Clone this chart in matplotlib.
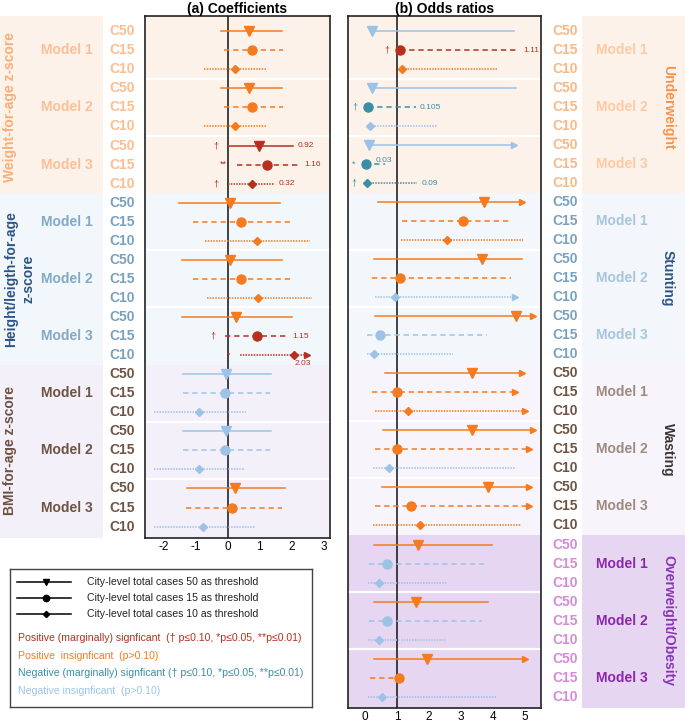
import numpy as np
import matplotlib.pyplot as plt
from matplotlib.transforms import blended_transform_factory
from matplotlib.patches import Rectangle

plt.rcParams['font.family'] = ['Liberation Sans', 'DejaVu Sans']
plt.rcParams['axes.unicode_minus'] = False

# ---- data ----
thresholds = ['C50', 'C15', 'C10']
models = ['Model 1', 'Model 2', 'Model 3']
coef_groups = ['Weight-for-age z-score', 'Height/leigth-for-age\nz-score', 'BMI-for-age z-score']
or_groups = ['Underweight', 'Stunting', 'Wasting', 'Overweight/Obesity']

# (a) coefficients, rows ordered group > model > threshold
coef_est = [0.66, 0.75, 0.21, 0.65, 0.75, 0.22, 0.98, 1.21, 0.76,
            0.08, 0.40, 0.90, 0.08, 0.42, 0.93, 0.24, 0.92, 2.08,
            -0.07, -0.10, -0.91, -0.07, -0.08, -0.91, 0.22, 0.14, -0.77]
coef_lo = [-0.22, -0.13, -0.75, -0.23, -0.13, -0.75, 0.01, 0.27, 0.01,
           -1.53, -1.10, -0.71, -1.45, -1.08, -0.65, -1.44, -0.08, 0.37,
           -1.40, -1.40, -2.31, -1.40, -1.40, -2.31, -1.27, -1.32, -2.31]
coef_hi = [1.69, 1.72, 1.24, 1.68, 1.72, 1.24, 2.04, 2.25, 1.45,
           1.62, 1.99, 2.58, 1.71, 1.99, 2.63, 2.01, 1.90, 2.47,
           1.36, 1.33, 0.58, 1.36, 1.31, 0.55, 1.80, 1.68, 0.84]
coef_sig = (['pos'] * 6 + ['pos_sig'] * 3 + ['pos'] * 7 + ['pos_sig'] * 2
            + ['neg'] * 6 + ['pos', 'pos', 'neg'])
coef_arrows = [17]
coef_stars = {6: '†', 7: '**', 8: '†', 16: '†', 17: '*'}
coef_labels = {6: '0.92', 7: '1.16', 8: '0.32', 16: '1.15', 17: '2.03'}

# (b) odds ratios
or_est = [0.22, 1.10, 1.17, 0.22, 0.10, 0.16, 0.14, 0.02, 0.07,
          3.73, 3.07, 2.55, 3.67, 1.10, 0.95, 4.71, 0.46, 0.28,
          3.33, 1.01, 1.33, 3.33, 1.01, 0.75, 3.85, 1.44, 1.72,
          1.65, 0.68, 0.44, 1.61, 0.68, 0.43, 1.93, 1.06, 0.53]
or_lo = [0.20, 1.08, 1.15, 0.20, 0.08, 0.14, 0.12, 0.01, 0.05,
         0.42, 1.17, 1.12, 0.28, 0.21, 0.32, 0.32, 0.05, 0.05,
         0.63, 0.21, 0.31, 0.57, 0.31, 0.24, 0.54, 0.31, 0.24,
         0.29, 0.14, 0.08, 0.29, 0.14, 0.08, 0.29, 0.16, 0.10]
or_hi = [4.67, 4.81, 4.11, 4.71, 1.59, 2.24, 4.67, 0.63, 1.64,
         4.90, 4.57, 4.93, 4.90, 4.55, 4.69, 5.26, 3.80, 2.76,
         4.90, 4.69, 5.01, 5.26, 5.13, 4.69, 5.13, 5.13, 4.88,
         3.96, 3.72, 2.55, 3.85, 3.65, 2.53, 5.00, 1.10, 4.09]
or_sig = ['neg', 'pos_sig', 'pos', 'neg', 'neg_sig', 'neg', 'neg', 'neg_sig', 'neg_sig',
          'pos', 'pos', 'pos', 'pos', 'pos', 'neg', 'pos', 'neg', 'neg',
          'pos', 'pos', 'pos', 'pos', 'pos', 'neg', 'pos', 'pos', 'pos',
          'pos', 'neg', 'neg', 'pos', 'neg', 'neg', 'pos', 'pos', 'neg']
or_arrows = [6, 9, 14, 15, 18, 19, 20, 21, 22, 24, 25, 33]
or_stars = {1: '†', 4: '†', 7: '*', 8: '†'}
or_labels = {1: '1.11', 4: '0.105', 7: '0.03', 8: '0.09'}

legend_lines = ['City-level total cases 50 as threshold',
                'City-level total cases 15 as threshold',
                'City-level total cases 10 as threshold']
legend_notes = [('pos_sig', 'Positive (marginally) signficant  († p≤0.10, *p≤0.05, **p≤0.01)'),
                ('pos', 'Positive  insignficant  (p>0.10)'),
                ('neg_sig', 'Negative (marginally) signficant († p≤0.10, *p≤0.05, **p≤0.01)'),
                ('neg', 'Negative insignficant  (p>0.10)')]

# ---- styles ----
sig_colors = {'pos_sig': '#b5301f', 'pos': '#f47b20', 'neg_sig': '#3a8fa2', 'neg': '#9cc3e6'}
ls_th = {'C50': '-', 'C15': (0, (3.5, 2.5)), 'C10': (0, (1, 0.8))}
mk_th = {'C50': 'v', 'C15': 'o', 'C10': 'D'}
ms_th = {'C50': 7, 'C15': 6.5, 'C10': 4.5}

left_style = [  # band, group label, model label, C label
    ('#fdf2e9', '#fbae76', '#fcc096', '#fcbd8f'),
    ('#f2f7fb', '#2d5586', '#82a9c5', '#78a1c0'),
    ('#f4f0fa', '#6b5242', '#6e5443', '#6e5443'),
]
right_style = [
    ('#fdf2e9', '#f7944a', '#fdcaa3', '#fbb784'),
    ('#f3f7fb', '#2d5586', '#a8c5db', '#78a1c0'),
    ('#f7f4fb', '#3d3535', '#9d8b80', '#6e5443'),
    ('#e7d6f1', '#8a35b5', '#8c27ab', '#d68ad8'),
]

fig = plt.figure(figsize=(6.85, 7.24), dpi=100)
ax_a = fig.add_axes([145 / 685, 1 - 538 / 724, 185 / 685, 522 / 724])
ax_b = fig.add_axes([348 / 685, 1 - 708 / 724, 193 / 685, 692 / 724])


def draw_panel(ax, est, lo, hi, sig, arrows, stars, labels, styles, ref, xlim):
    n = len(est)
    ax.set_xlim(*xlim)
    ax.set_ylim(n - 0.4, -0.8)
    ngroups = n // 9
    for g in range(ngroups):
        y0 = -1 if g == 0 else g * 9 - 0.5
        y1 = n + 1 if g == ngroups - 1 else g * 9 + 8.5
        ax.axhspan(y0, y1, color=styles[g][0], zorder=0, lw=0)
        for m in (1, 2):
            ax.axhline(g * 9 + m * 3 - 0.5, color='white', lw=1.6, zorder=1)
    ax.axvline(ref, color='#111111', lw=1.1, zorder=2)
    for i in range(n):
        th = thresholds[i % 3]
        c = sig_colors[sig[i]]
        ax.plot([lo[i], hi[i]], [i, i], color=c, ls=ls_th[th], lw=1.1, zorder=3)
        ax.plot(est[i], i, marker=mk_th[th], ms=ms_th[th], color=c, mec=c, zorder=4)
        if i in arrows:
            ax.plot(hi[i], i, marker='>', ms=4, color=c, mec=c, zorder=4)
    for i, s in stars.items():
        c = sig_colors[sig[i]]
        ax.annotate(s, (min(lo[i], est[i]), i), xytext=(-7, 0), textcoords='offset points',
                    ha='right', va='center', fontsize=6.5, color=c)
    for i, s in labels.items():
        c = sig_colors[sig[i]]
        if i in arrows:
            ax.annotate(s, (hi[i], i), xytext=(-3, -6), textcoords='offset points',
                        ha='center', va='center', fontsize=6, color=c)
        elif hi[i] - lo[i] < 1:
            ax.annotate(s, (hi[i], i), xytext=(-1, 3), textcoords='offset points',
                        ha='center', va='center', fontsize=6, color=c)
        else:
            ax.annotate(s, (hi[i], i), xytext=(3, 0), textcoords='offset points',
                        ha='left', va='center', fontsize=6, color=c)
    ax.set_yticks([])
    ax.tick_params(axis='x', length=0, pad=2, labelsize=8.5)
    for sp in ax.spines.values():
        sp.set_linewidth(1.2)
        sp.set_color('#222222')


draw_panel(ax_a, coef_est, coef_lo, coef_hi, coef_sig, coef_arrows, coef_stars,
           coef_labels, left_style, 0, (-2.6, 3.2))
ax_a.set_xticks([-2, -1, 0, 1, 2, 3])
ax_a.set_title('(a) Coefficients', fontsize=10, fontweight='bold', pad=2)

draw_panel(ax_b, or_est, or_lo, or_hi, or_sig, or_arrows, or_stars,
           or_labels, right_style, 1, (-0.53, 5.5))
ax_b.set_xticks([0, 1, 2, 3, 4, 5])
ax_b.set_title('(b) Odds ratios', fontsize=10, fontweight='bold', pad=2)

# left labels
tr_a = blended_transform_factory(ax_a.transAxes, ax_a.transData)
n_a = len(coef_est)
for g, name in enumerate(coef_groups):
    band, gcol, mcol, ccol = left_style[g]
    y0 = -0.8 if g == 0 else g * 9 - 0.5
    y1 = n_a - 0.4 if g == len(coef_groups) - 1 else g * 9 + 8.5
    ax_a.add_patch(Rectangle((-0.784, y0), 0.557, y1 - y0, transform=tr_a,
                             clip_on=False, color=band, lw=0, zorder=0))
    gx = -0.678 if '\n' in name else -0.73
    ax_a.text(gx, g * 9 + 4, name, transform=tr_a, rotation=90, ha='center', va='center',
              fontsize=10, fontweight='bold', color=gcol, linespacing=1.35)
    for m, mname in enumerate(models):
        ax_a.text(-0.42, g * 9 + m * 3 + 1, mname, transform=tr_a, ha='center', va='center',
                  fontsize=10, fontweight='bold', color=mcol)
        for t, th in enumerate(thresholds):
            ax_a.text(-0.054, g * 9 + m * 3 + t, th, transform=tr_a, ha='right', va='center',
                      fontsize=10, fontweight='bold', color=ccol)

# right labels
tr_b = blended_transform_factory(ax_b.transAxes, ax_b.transData)
n_b = len(or_est)
for g, name in enumerate(or_groups):
    band, gcol, mcol, ccol = right_style[g]
    y0 = -0.8 if g == 0 else g * 9 - 0.5
    y1 = n_b - 0.4 if g == len(or_groups) - 1 else g * 9 + 8.5
    ax_b.add_patch(Rectangle((1.212, y0), 0.54, y1 - y0, transform=tr_b,
                             clip_on=False, color=band, lw=0, zorder=0))
    ax_b.text(1.658, g * 9 + 4, name, transform=tr_b, rotation=270, ha='center', va='center',
              fontsize=10, fontweight='bold', color=gcol)
    for m, mname in enumerate(models):
        ax_b.text(1.42, g * 9 + m * 3 + 1, mname, transform=tr_b, ha='center', va='center',
                  fontsize=10, fontweight='bold', color=mcol)
        for t, th in enumerate(thresholds):
            ax_b.text(1.057, g * 9 + m * 3 + t, th, transform=tr_b, ha='left', va='center',
                      fontsize=10, fontweight='bold', color=ccol)

# legend box
ax_l = fig.add_axes([10 / 685, 1 - 707 / 724, 302 / 685, 138 / 724])
ax_l.set_xlim(0, 302)
ax_l.set_ylim(138, 0)
ax_l.set_xticks([])
ax_l.set_yticks([])
for sp in ax_l.spines.values():
    sp.set_linewidth(1.0)
    sp.set_color('#444444')
for k, txt in enumerate(legend_lines):
    y = 13 + 16 * k
    th = thresholds[k]
    ax_l.plot([7, 61], [y, y], color='black', lw=1.1)
    ax_l.plot(36, y, marker=mk_th[th], ms=ms_th[th] * 0.7, color='black')
    ax_l.text(77, y, txt, ha='left', va='center', fontsize=7.6, color='#222222')
for k, (key, txt) in enumerate(legend_notes):
    y = 69 + 17.7 * k
    ax_l.text(8, y, txt, ha='left', va='center', fontsize=7.6, color=sig_colors[key])

fig.savefig('out.png', dpi=100, facecolor='white')
